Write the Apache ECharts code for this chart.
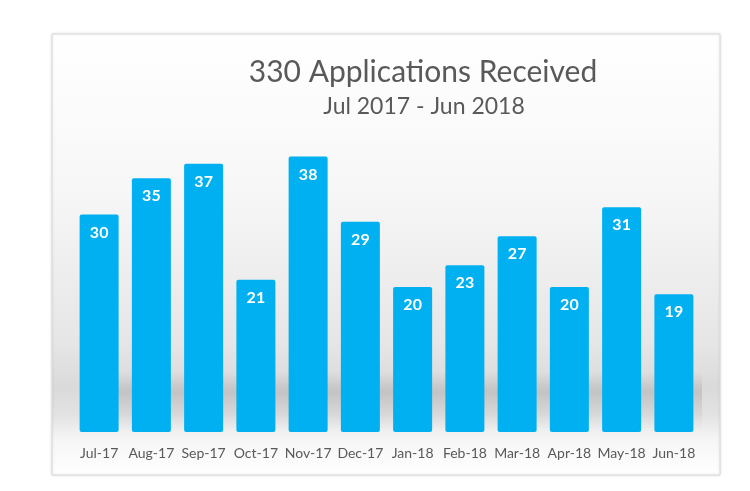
<!DOCTYPE html>
<html>
<head>
<meta charset="utf-8">
<script src="https://cdn.jsdelivr.net/npm/echarts@6/dist/echarts.min.js"></script>
<style>
  html, body { margin: 0; padding: 0; background: #fff; }
  #main { width: 750px; height: 491px; }
</style>
</head>
<body>
<div id="main"></div>
<script>
// months and applications per month
var months = ['Jul-17', 'Aug-17', 'Sep-17', 'Oct-17', 'Nov-17', 'Dec-17',
              'Jan-18', 'Feb-18', 'Mar-18', 'Apr-18', 'May-18', 'Jun-18'];
var applications = [30, 35, 37, 21, 38, 29, 20, 23, 27, 20, 31, 19];

var chart = echarts.init(document.getElementById('main'));

chart.setOption({
  animation: false,
  textStyle: { fontFamily: 'Lato' },
  graphic: [
    {
      // outer chart box with soft gray gradient
      type: 'rect',
      z: -10,
      shape: { x: 52, y: 34, width: 668, height: 441 },
      style: {
        fill: new echarts.graphic.LinearGradient(0, 0, 0, 1, [
          { offset: 0, color: '#ffffff' },
          { offset: 0.35, color: '#f7f7f7' },
          { offset: 0.7, color: '#e6e6e6' },
          { offset: 0.8, color: '#dadada' },
          { offset: 0.86, color: '#e2e2e2' },
          { offset: 0.92, color: '#f6f6f6' },
          { offset: 1, color: '#ffffff' }
        ]),
        stroke: '#d9d9d9',
        lineWidth: 1,
        shadowBlur: 3,
        shadowColor: 'rgba(0,0,0,0.12)'
      }
    },
    {
      // floor shadow band behind bars
      type: 'rect',
      z: -9,
      shape: { x: 80, y: 372, width: 622, height: 58 },
      style: {
        fill: new echarts.graphic.LinearGradient(0, 0, 0, 1, [
          { offset: 0, color: 'rgba(0,0,0,0)' },
          { offset: 0.35, color: 'rgba(0,0,0,0.11)' },
          { offset: 0.7, color: 'rgba(0,0,0,0.05)' },
          { offset: 1, color: 'rgba(0,0,0,0)' }
        ])
      }
    }
  ],
  title: [
    {
      text: '330 Applications Received',
      left: 418,
      top: 52,
      textAlign: 'center',
      textStyle: { fontSize: 30, fontWeight: 'normal', color: '#595959', fontFamily: 'Lato' }
    },
    {
      text: 'Jul 2017 - Jun 2018',
      left: 419,
      top: 90,
      textAlign: 'center',
      textStyle: { fontSize: 23, fontWeight: 'normal', color: '#595959', fontFamily: 'Lato' }
    }
  ],
  grid: { left: 73, right: 50, top: 142, bottom: 59 },
  xAxis: {
    type: 'category',
    data: months,
    axisLine: { show: false },
    axisTick: { show: false },
    axisLabel: { color: '#595959', fontSize: 14, margin: 14, interval: 0 }
  },
  yAxis: {
    type: 'value',
    min: 0,
    max: 40,
    show: false,
    splitLine: { show: false }
  },
  series: [
    {
      type: 'bar',
      data: applications,
      barWidth: 39,
      itemStyle: {
        color: '#00b0f0',
        borderRadius: 2
      },
      label: {
        show: true,
        position: 'insideTop',
        distance: 10,
        color: '#ffffff',
        fontSize: 16,
        fontWeight: 'bold'
      }
    }
  ]
});
</script>
</body>
</html>
